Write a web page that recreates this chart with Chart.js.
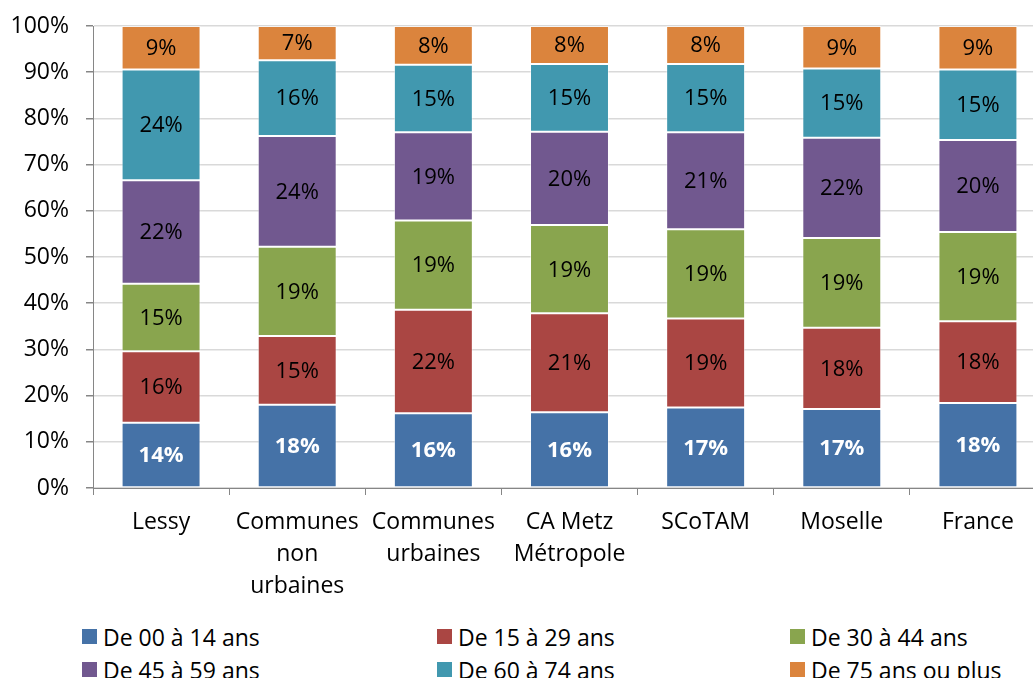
<!DOCTYPE html>
<html>
<head>
<meta charset="utf-8">
<script src="https://cdn.jsdelivr.net/npm/chart.js@4.4.1/dist/chart.umd.min.js"></script>
<style>
  html, body { margin: 0; padding: 0; background: #fff; overflow: hidden; }
  #zone { position: absolute; left: 0; top: 0; width: 1046px; height: 610px; }
  #legende { position: absolute; left: 0; top: 620px; width: 1033px; font-family: "Open Sans", sans-serif; font-size: 23px; color: #000; }
  .item { position: absolute; white-space: nowrap; display: flex; align-items: center; height: 33px; }
  .carre { width: 15px; height: 15px; margin-right: 6px; }
</style>
</head>
<body>
<div id="zone"><canvas id="graphique"></canvas></div>
<div id="legende"></div>
<script>
// Territoires comparés
const territoires = [
  'Lessy',
  ['Communes', 'non', 'urbaines'],
  ['Communes', 'urbaines'],
  ['CA Metz', 'Métropole'],
  'SCoTAM',
  'Moselle',
  'France'
];

// Parts de chaque tranche d'âge (en %)
const age00a14 = [14.1, 18.0, 16.2, 16.4, 17.4, 17.1, 18.4];
const age15a29 = [15.5, 14.9, 22.4, 21.4, 19.3, 17.6, 17.7];
const age30a44 = [14.6, 19.3, 19.3, 19.1, 19.3, 19.4, 19.3];
const age45a59 = [22.4, 24.0, 19.1, 20.2, 21.0, 21.7, 19.9];
const age60a74 = [24.0, 16.4, 14.6, 14.7, 14.8, 15.0, 15.3];
const age75plus = [9.4, 7.4, 8.4, 8.2, 8.2, 9.2, 9.4];

const etiquettes = ['De 00 à 14 ans', 'De 15 à 29 ans', 'De 30 à 44 ans',
  'De 45 à 59 ans', 'De 60 à 74 ans', 'De 75 ans ou plus'];
const graduations = [0, 10, 20, 30, 40, 50, 60, 70, 80, 90, 100];

const COULEURS = ['#4572A7', '#AA4643', '#89A54E', '#71588F', '#4198AF', '#DB843D'];
const POLICE = '"Open Sans", sans-serif';

const series = [age00a14, age15a29, age30a44, age45a59, age60a74, age75plus];

// Étiquettes de valeur au centre de chaque segment
const valeursDansBarres = {
  id: 'valeursDansBarres',
  afterDatasetsDraw(chart) {
    const ctx = chart.ctx;
    ctx.save();
    ctx.textAlign = 'center';
    ctx.textBaseline = 'middle';
    chart.data.datasets.forEach((ds, i) => {
      const meta = chart.getDatasetMeta(i);
      meta.data.forEach((barre, j) => {
        const premier = i === 0;
        ctx.font = (premier ? 'bold ' : '') + '22px ' + POLICE;
        ctx.fillStyle = premier ? '#fff' : '#000';
        ctx.fillText(Math.round(ds.data[j]) + '%', barre.x, (barre.y + barre.base) / 2 + 1);
      });
    });
    ctx.restore();
  }
};

new Chart(document.getElementById('graphique'), {
  type: 'bar',
  data: {
    labels: territoires,
    datasets: series.map((valeurs, i) => ({
      label: etiquettes[i],
      data: valeurs,
      backgroundColor: COULEURS[i],
      borderColor: 'rgba(255,255,255,0.45)',
      borderWidth: 1,
      borderSkipped: false,
      categoryPercentage: 1,
      barPercentage: 0.58
    }))
  },
  options: {
    responsive: true,
    maintainAspectRatio: false,
    animation: false,
    layout: { padding: { top: 26, left: 0, right: 0, bottom: 0 } },
    plugins: { legend: { display: false }, tooltip: { enabled: false } },
    scales: {
      x: {
        stacked: true,
        afterFit(scale) {
          scale.height = 610 - 488;
          scale.paddingLeft = 0;
          scale.paddingRight = 0;
        },
        border: { color: '#868686', width: 1 },
        grid: { drawOnChartArea: false, drawTicks: true, tickLength: 7, color: '#868686' },
        ticks: {
          color: '#000',
          padding: 11,
          maxRotation: 0,
          autoSkip: false,
          font: { family: POLICE, size: 23, lineHeight: 1.4 }
        }
      },
      y: {
        stacked: true,
        min: 0,
        max: 100,
        afterFit(scale) {
          scale.width = 93;
          scale.paddingTop = 0;
          scale.paddingBottom = 0;
        },
        afterBuildTicks(scale) { scale.ticks = graduations.map(v => ({ value: v })); },
        border: { color: '#868686', width: 1 },
        grid: { color: '#d9d9d9', lineWidth: 1.5, tickLength: 7, tickColor: '#868686' },
        ticks: {
          color: '#000',
          padding: 17,
          font: { family: POLICE, size: 23 },
          callback: v => v + '%'
        }
      }
    }
  },
  plugins: [valeursDansBarres]
});

// Légende en trois colonnes, comme dans l'original
const legende = document.getElementById('legende');
const colonnes = [82, 437, 790];
etiquettes.forEach((texte, i) => {
  const item = document.createElement('div');
  item.className = 'item';
  item.style.left = colonnes[i % 3] + 'px';
  item.style.top = (Math.floor(i / 3) * 33) + 'px';
  item.innerHTML = `<span class="carre" style="background:${COULEURS[i]}"></span><span>${texte}</span>`;
  legende.appendChild(item);
});
</script>
</body>
</html>
